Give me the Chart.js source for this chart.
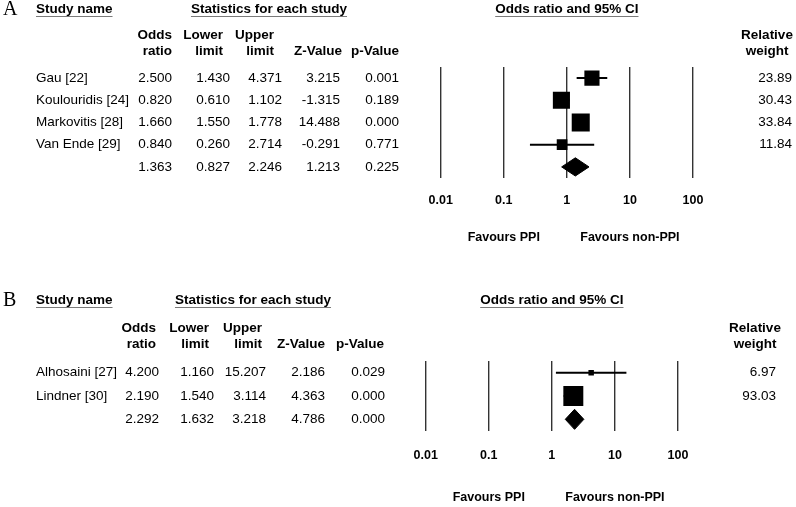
<!DOCTYPE html>
<html>
<head>
<meta charset="utf-8">
<script src="https://cdn.jsdelivr.net/npm/chart.js@4/dist/chart.umd.min.js"></script>
<style>
  html, body { margin: 0; padding: 0; background: #fff; }
  #wrap { position: relative; width: 796px; height: 507px; }
  canvas { position: absolute; left: 0; }
  #chartA { top: 0; }
  #chartB { top: 270px; }
</style>
</head>
<body>
<div id="wrap">
  <canvas id="chartA" width="796" height="270"></canvas>
  <canvas id="chartB" width="796" height="237"></canvas>
</div>
<script>
// ---- data (panel A) ----
const studiesA = ['Gau [22]', 'Koulouridis [24]', 'Markovitis [28]', 'Van Ende [29]'];
const oddsA   = [2.500, 0.820, 1.660, 0.840];
const lowerA  = [1.430, 0.610, 1.550, 0.260];
const upperA  = [4.371, 1.102, 1.778, 2.714];
const zA      = [3.215, -1.315, 14.488, -0.291];
const pA      = [0.001, 0.189, 0.000, 0.771];
const weightA = [23.89, 30.43, 33.84, 11.84];
const summaryA = [1.363, 0.827, 2.246, 1.213, 0.225]; // OR, lower, upper, Z, p

// ---- data (panel B) ----
const studiesB = ['Alhosaini [27]', 'Lindner [30]'];
const oddsB   = [4.200, 2.190];
const lowerB  = [1.160, 1.540];
const upperB  = [15.207, 3.114];
const zB      = [2.186, 4.363];
const pB      = [0.029, 0.000];
const weightB = [6.97, 93.03];
const summaryB = [2.292, 1.632, 3.218, 4.786, 0.000];

// ---- labels ----
const tickValues = [0.01, 0.1, 1, 10, 100];
const tickLabels = ['0.01', '0.1', '1', '10', '100'];
const headTop    = ['Odds', 'Lower', 'Upper', '', ''];
const headBottom = ['ratio', 'limit', 'limit', 'Z-Value', 'p-Value'];
const favourLeft = 'Favours PPI';
const favourRight = 'Favours non-PPI';

const SANS = '"Liberation Sans", Arial, sans-serif';

function underlined(ctx, text, x, y, align) {
  ctx.textAlign = align;
  ctx.fillText(text, x, y);
  const w = ctx.measureText(text).width;
  const x0 = align === 'center' ? x - w / 2 : x;
  ctx.save();
  ctx.strokeStyle = '#7a7a7a';
  ctx.lineWidth = 1;
  ctx.beginPath();
  ctx.moveTo(x0, y + 7.5);
  ctx.lineTo(x0 + w, y + 7.5);
  ctx.stroke();
  ctx.restore();
}

const forestText = {
  id: 'forestText',
  afterDraw(chart, args, o) {
    const ctx = chart.ctx, xs = chart.scales.x, ys = chart.scales.y;
    ctx.save();
    ctx.fillStyle = '#000';
    ctx.textBaseline = 'middle';

    ctx.font = '20px "Liberation Serif", "Times New Roman", serif';
    ctx.textAlign = 'left';
    ctx.fillText(o.letter, 3, o.titleY + 1);

    ctx.font = 'bold 13.5px ' + SANS;
    underlined(ctx, 'Study name', 36, o.titleY, 'left');
    underlined(ctx, 'Statistics for each study', o.statsCenter, o.titleY, 'center');
    underlined(ctx, 'Odds ratio and 95% CI', xs.getPixelForValue(1), o.titleY, 'center');

    ctx.textAlign = 'right';
    headTop.forEach((t, c) => { if (t) ctx.fillText(t, o.headX[c], o.headY1); });
    headBottom.forEach((t, c) => ctx.fillText(t, o.headX[c], o.headY2));
    ctx.textAlign = 'center';
    ctx.fillText('Relative', o.weightHeadX, o.headY1);
    ctx.fillText('weight', o.weightHeadX, o.headY2);

    ctx.font = '13.5px ' + SANS;
    const n = o.studies.length;
    for (let i = 0; i <= n; i++) {
      const y = ys.getPixelForValue(i);
      const vals = i < n
        ? [o.odds[i], o.lower[i], o.upper[i], o.z[i], o.p[i]]
        : o.summary;
      if (i < n) {
        ctx.textAlign = 'left';
        ctx.fillText(o.studies[i], 36, y);
        ctx.textAlign = 'right';
        ctx.fillText(o.weight[i].toFixed(2), o.weightX, y);
      }
      ctx.textAlign = 'right';
      vals.forEach((v, c) => ctx.fillText(v.toFixed(3), o.colX[c], y));
    }

    ctx.font = 'bold 12.5px ' + SANS;
    ctx.textAlign = 'center';
    ctx.fillText(favourLeft, xs.getPixelForValue(0.1), o.favourY);
    ctx.fillText(favourRight, xs.getPixelForValue(10), o.favourY);
    ctx.restore();
  }
};

function makeForest(canvasId, o) {
  const n = o.studies.length;
  const datasets = [];
  // study squares, size from weight
  datasets.push({
    data: o.odds.map((v, i) => ({ x: v, y: i })),
    pointStyle: 'rect',
    pointRadius: o.weight.map(w => o.squareScale * Math.sqrt(w) / Math.SQRT2),
    backgroundColor: '#000',
    borderWidth: 0
  });
  // confidence intervals
  o.odds.forEach((v, i) => {
    datasets.push({
      data: [{ x: o.lower[i], y: i }, { x: o.upper[i], y: i }],
      showLine: true,
      borderColor: '#000',
      borderWidth: 2,
      pointRadius: 0
    });
  });
  // summary diamond
  const s = o.summary, h = o.diamondHalf;
  datasets.push({
    data: [
      { x: s[1], y: n }, { x: s[0], y: n - h }, { x: s[2], y: n },
      { x: s[0], y: n + h }, { x: s[1], y: n }
    ],
    showLine: true,
    fill: 'shape',
    borderColor: '#000',
    backgroundColor: '#000',
    borderWidth: 1,
    pointRadius: 0,
    tension: 0
  });

  return new Chart(document.getElementById(canvasId), {
    type: 'scatter',
    data: { datasets },
    options: {
      responsive: false,
      animation: false,
      events: [],
      layout: { padding: o.padding },
      plugins: { legend: { display: false }, tooltip: { enabled: false }, forestText: o },
      scales: {
        x: {
          type: 'logarithmic',
          min: 0.01,
          max: 100,
          afterBuildTicks: sc => { sc.ticks = tickValues.map(v => ({ value: v })); },
          afterFit: sc => { sc.height = 40; },
          grid: { color: '#333', lineWidth: 1.4, drawTicks: false },
          border: { display: false },
          ticks: {
            padding: o.tickPad,
            color: '#000',
            font: { family: SANS, size: 12.5, weight: 'bold' },
            maxRotation: 0,
            autoSkip: false,
            callback: (v, i) => tickLabels[i]
          }
        },
        y: {
          type: 'linear',
          min: -0.5,
          max: n + 0.5,
          reverse: true,
          display: false
        }
      }
    },
    plugins: [forestText]
  });
}

makeForest('chartA', {
  letter: 'A',
  studies: studiesA, odds: oddsA, lower: lowerA, upper: upperA,
  z: zA, p: pA, weight: weightA, summary: summaryA,
  padding: { left: 440.7, right: 103, top: 67, bottom: 52 },
  tickPad: 15,
  squareScale: 3.1,
  diamondHalf: 0.41,
  titleY: 9, headY1: 35, headY2: 51,
  statsCenter: 269,
  colX: [172, 230, 282, 340, 399],
  headX: [172, 223, 274, 342, 399],
  weightHeadX: 767, weightX: 792,
  favourY: 238
});

makeForest('chartB', {
  letter: 'B',
  studies: studiesB, odds: oddsB, lower: lowerB, upper: upperB,
  z: zB, p: pB, weight: weightB, summary: summaryB,
  padding: { left: 425.7, right: 118, top: 91, bottom: 36 },
  tickPad: 17,
  squareScale: 2.07,
  diamondHalf: 0.43,
  titleY: 30, headY1: 58, headY2: 74,
  statsCenter: 253,
  colX: [159, 214, 266, 325, 385],
  headX: [156, 209, 262, 325, 384],
  weightHeadX: 755, weightX: 776,
  favourY: 228
});
</script>
</body>
</html>
